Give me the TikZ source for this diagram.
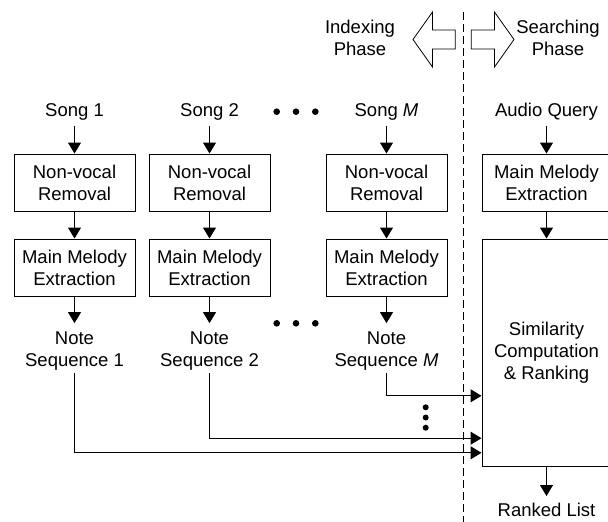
\documentclass[tikz,border=0pt]{standalone}
\usepackage{fontspec}
\setmainfont{Liberation Sans}
\usetikzlibrary{arrows.meta}
\begin{document}
\begin{tikzpicture}[x=1pt,y=-1pt,
  every node/.style={font=\fontsize{18.5}{22}\selectfont},
  box/.style={draw,line width=1pt,minimum width=121pt,minimum height=57pt,inner sep=0pt,align=center},
  lbl/.style={inner sep=0pt,align=center},
  arr/.style={line width=1pt,-{Triangle[length=11pt,width=13pt]}},
  conn/.style={line width=1pt},
  blockarrow/.style={draw,line width=0.8pt,fill=white,line join=miter},
  dot/.style={fill=black}]
\useasboundingbox (0,0) rectangle (608,522);
% phase arrows
\draw[blockarrow] (413,39.5) -- (432.5,12) -- (432.5,30) -- (455.3,30) -- (455.3,49) -- (432.5,49) -- (432.5,67) -- cycle;
\draw[blockarrow] (514,39.5) -- (494.5,12) -- (494.5,30) -- (471.3,30) -- (471.3,49) -- (494.5,49) -- (494.5,67) -- cycle;
\node[lbl] (idx) at (360,38.3) {Indexing\\Phase};
\node[lbl] (srch) at (558,38.3) {Searching\\Phase};
% dashed separator
\draw[line width=1pt,dash pattern=on 7.5pt off 4.5pt] (463.3,12) -- (463.3,522);
% songs
\node[lbl] (s1) at (74.5,112) {Song 1};
\node[lbl] (s2) at (209.5,112) {Song 2};
\node[lbl] (sM) at (386.5,112) {Song \textit{M}};
\node[lbl] (aq) at (546.5,112) {Audio Query};
% boxes
\node[box] (r1) at (74.5,182.5) {Non-vocal\\Removal};
\node[box] (r2) at (209.5,182.5) {Non-vocal\\Removal};
\node[box] (rM) at (386.5,182.5) {Non-vocal\\Removal};
\node[box,minimum width=129pt] (qm) at (546.5,182.5) {Main Melody\\Extraction};
\node[box] (m1) at (74.5,267.5) {Main Melody\\Extraction};
\node[box] (m2) at (209.5,267.5) {Main Melody\\Extraction};
\node[box] (mM) at (386.5,267.5) {Main Melody\\Extraction};
\node[box,minimum width=129pt,minimum height=227pt] (sim) at (546.5,352.5) {Similarity\\Computation\\\&~Ranking};
% note sequences
\node[lbl] (n1) at (74.5,351) {Note\\Sequence 1};
\node[lbl] (n2) at (209.5,351) {Note\\Sequence 2};
\node[lbl] (nM) at (386.5,351) {Note\\Sequence \textit{M}};
\node[lbl] (rl) at (546.5,510) {Ranked List};
% vertical arrows
\draw[arr,shorten <=5pt] (s1) -- (r1);
\draw[arr,shorten <=5pt] (s2) -- (r2);
\draw[arr,shorten <=5pt] (sM) -- (rM);
\draw[arr,shorten <=5pt] (aq) -- (qm);
\draw[arr] (r1) -- (m1);
\draw[arr] (r2) -- (m2);
\draw[arr] (rM) -- (mM);
\draw[arr] (qm) -- (sim);
\draw[arr,shorten >=8.4pt] (m1.south) -- (n1.north);
\draw[arr,shorten >=8.4pt] (m2.south) -- (n2.north);
\draw[arr,shorten >=8.4pt] (mM.south) -- (nM.north);
\draw[arr,shorten >=7pt] (sim.south) -- (rl.north);
% connectors to similarity
\draw[arr,shorten <=2.5pt] (nM.south) |- ([yshift=70.7pt]sim.south west);
\draw[arr,shorten <=2.5pt] (n2.south) |- ([yshift=28.3pt]sim.south west);
\draw[arr,shorten <=2.5pt] (n1.south) |- ([yshift=13.7pt]sim.south west);
% ellipsis dots
\foreach \x in {276.7,296,315.3} {
  \fill[dot] (\x,111.7) circle (3.3pt);
  \fill[dot] (\x,323.3) circle (3.3pt);
}
\foreach \y in {407.3,417.5,427.7} {
  \fill[dot] (425.7,\y) circle (3pt);
}
\end{tikzpicture}
\end{document}
